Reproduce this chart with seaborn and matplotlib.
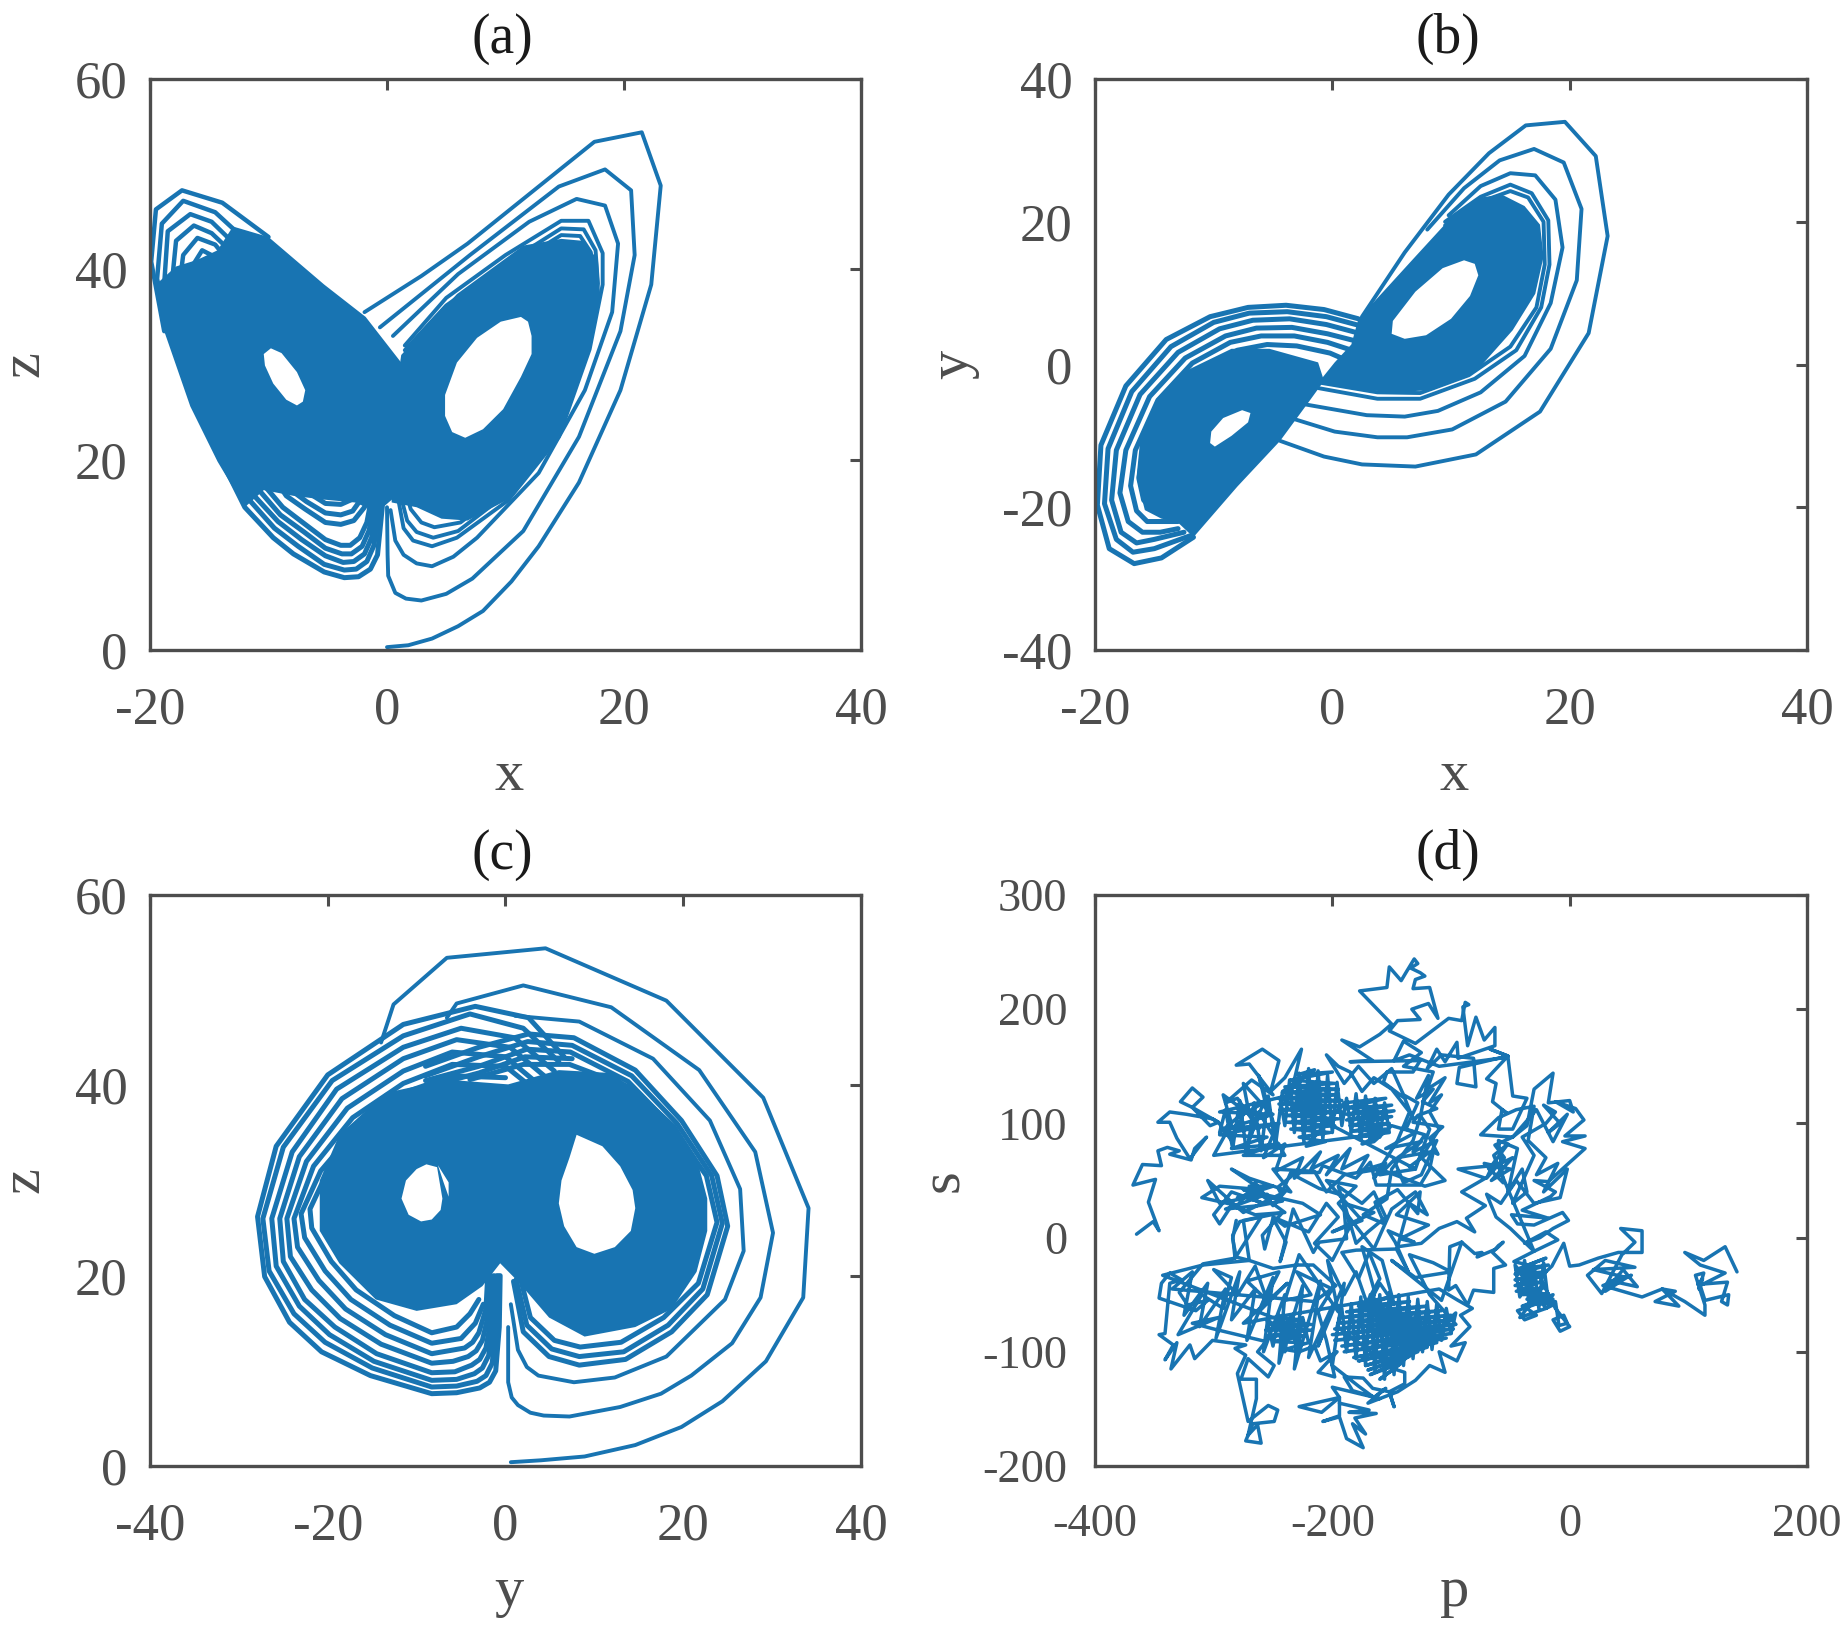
#!/usr/bin/env python3
"""Four phase portraits: x-z, x-y, y-z and p-s, values read off the picture."""

import matplotlib
matplotlib.use("Agg")
import matplotlib.pyplot as plt
import pandas as pd
import seaborn as sns

BLUE = "#1874B2"
GREY = "#4D4D4D"

# --- panel (a): x, z ---
a_outer = [
    [(0, 0.3), (1.8, 0.5), (3.8, 1.2), (6, 2.5), (8.1, 4.1), (10.5, 7.2), (12.8, 10.9), (16.2, 17.6), (19.7, 27.3), (22.3, 38.4), (23.1, 48.8),
     (21.5, 54.4), (17.5, 53.4), (12.4, 48.3), (6.8, 42.7), (2.9, 39.3), (-1.9, 35.5)],
    [(0, 15), (0.05, 10), (0.1, 7.8), (0.7, 6), (1.6, 5.4), (2.9, 5.2), (5, 5.9), (7.2, 7.5), (11.5, 12.5), (16.2, 22.4), (19.7, 33.5), (20.9, 41.5),
     (20.6, 48.3), (18.4, 50.5), (14.5, 48.7), (7, 41.5), (-0.6, 33.9)],
    [(0.3, 14.7), (0.7, 11.5), (1.4, 10), (2.5, 9.1), (3.8, 8.8), (5.6, 9.8), (7.6, 11.8), (12.8, 18.6), (16.7, 27.3), (19, 35.5), (19.5, 42.7),
     (18.4, 46.7), (16, 47.4), (12, 45), (6, 39.5), (0.5, 33)],
    [(1, 15.5), (1.4, 12.8), (2.2, 11.5), (3.8, 10.9), (5.9, 11.8), (10.2, 15.7), (14.5, 22.4), (17.1, 31.6), (18.2, 38.4),
     (18.2, 41.7), (17, 45.1), (14.7, 45.1), (10, 41.5), (5, 37), (1.5, 32)],
    [(1.2, 16), (1.7, 13.6), (2.5, 12.4), (3.9, 11.8), (6, 12.5), (10, 16.3), (14.2, 23), (16.8, 32), (17.8, 38.5),
     (17.6, 42), (16.6, 44.2), (14.7, 44.3), (10, 40.6), (5, 36.2), (1.5, 31.5)],
    [(1.5, 17), (2, 14.8), (2.9, 13.4), (4, 12.9), (6.2, 13.4), (10, 17), (13.9, 23.5), (16.5, 32.5), (17.4, 38.5),
     (17.2, 41.8), (16.3, 43.5), (14.7, 43.6), (10, 40), (5, 35.5), (1.5, 31)],
]
a_left_arcs = [
    [(-14, 20), (-12, 15), (-9.6, 11.8), (-7.9, 10.1), (-5.3, 8.2), (-3.6, 7.6), (-2.4, 7.7), (-1.4, 8.5), (-0.8, 10), (-0.4, 15), (-0.3, 20)],
    [(-13, 19), (-11.5, 15.6), (-9.5, 12.8), (-7.5, 10.9), (-5.3, 9), (-3.6, 8.4), (-2.6, 8.5), (-1.7, 9.3), (-1.1, 11), (-0.7, 15), (-0.5, 20)],
    [(-13, 20), (-11.2, 16.2), (-9.2, 13.5), (-7.2, 11.6), (-5.2, 9.9), (-3.7, 9.2), (-2.8, 9.3), (-1.9, 10.1), (-1.3, 11.8), (-0.9, 15), (-0.7, 20)],
    [(-12, 20), (-10.8, 16.8), (-9, 14.2), (-7, 12.4), (-5.2, 10.7), (-3.8, 10.1), (-3, 10.1), (-2.1, 10.9), (-1.5, 12.6), (-1.1, 15.5), (-0.9, 20)],
    [(-12, 20), (-10.5, 17.5), (-8.8, 15), (-6.9, 13.2), (-5.2, 11.6), (-3.9, 11), (-3.1, 11), (-2.3, 11.8), (-1.7, 13.4), (-1.3, 16), (-1.1, 20)],
    [(-10, 19), (-8.5, 16.2), (-6.9, 14.8), (-5.2, 13.4), (-3.9, 13.2), (-2.8, 13.6), (-1.9, 15), (-1.4, 18)],
    [(-10, 20), (-8.3, 17), (-6.8, 15.6), (-5.2, 14.4), (-3.9, 14.2), (-2.9, 14.6), (-2.1, 16), (-1.6, 19)],
    [(-10, 20), (-8.1, 17.8), (-6.6, 16.5), (-5.2, 15.4), (-3.9, 15.3), (-3, 15.8), (-2.3, 17), (-1.8, 20)],
]
a_left_top = [
    [(-10, 43.4), (-13.9, 47), (-17.3, 48.3), (-19.5, 46.3), (-19.9, 40.8), (-18.8, 33.5)],
    [(-11, 42), (-14.5, 46), (-17.2, 47.2), (-19, 44.8), (-19.4, 39), (-18.4, 33)],
    [(-11.5, 41), (-14.8, 45), (-16.6, 45.8), (-18.5, 44), (-18.8, 38.5), (-17.8, 33)],
    [(-12, 40.5), (-14.8, 43.8), (-16.3, 44.6), (-17.8, 43), (-18.2, 38), (-17.3, 33)],
    [(-12.5, 39.5), (-14.5, 42.6), (-16, 43.3), (-17.2, 41.5), (-17.6, 37.5), (-16.8, 33)],
    [(-12.5, 38.5), (-14.5, 41.3), (-15.6, 42), (-16.6, 40), (-17.1, 36.5), (-16.5, 33)],
    [(-13, 38), (-14.2, 40.3), (-15.3, 40.8), (-16.2, 38.8), (-16.7, 36), (-16.2, 33)],
]
a_solid_left = [(-16, 41), (-14.3, 42), (-13, 44.5), (-10, 43.4), (-5.3, 38.4), (-1.8, 35), (1.2, 30.2), (1.5, 25),
                (1.5, 20), (0.6, 16), (-0.8, 14.5), (-2.7, 15.5), (-5.3, 15.8), (-7.9, 16.2), (-10.4, 16.8), (-12, 15), (-14.3, 19.8),
                (-16.6, 25.6), (-18.8, 33.5), (-19.5, 38.4), (-17.8, 40.3)]
a_solid_right = [(1.2, 31), (5.9, 37.4), (11.5, 42.5), (14.7, 43.2), (16.5, 43), (17.8, 41), (18, 37), (17, 31),
                 (14.5, 22.5), (10.5, 16), (6.8, 13.6), (4.6, 13.8), (2.5, 15), (0.4, 15.5), (0.2, 20), (0.5, 24.9)]
a_holes = [
    [(11.3, 35), (11.9, 34.5), (12.2, 33), (12.2, 31.1), (11.3, 28.7), (9.8, 25.3), (8.1, 23.2), (6.6, 22.3), (5.5, 22.9),
     (4.9, 24.6), (4.9, 26.8), (5.9, 30.2), (7.6, 32.8), (9.6, 34.5)],
    [(-9.8, 31.7), (-8.9, 31.2), (-7.6, 29.2), (-6.9, 27.3), (-7.1, 26.1), (-7.6, 25.7), (-8.5, 26.3), (-9.6, 28), (-10.3, 29.9), (-10.4, 31.1)],
]

# --- panel (b): x, y ---
b_outer = [
    [(-4.4, -10.7), (-0.7, -12.9), (2.5, -14), (7, -14.3), (12.1, -12.6), (17.5, -6.6), (21.6, 4.4), (23.2, 18),
     (22.2, 29.2), (19.6, 34), (16.3, 33.5), (13.2, 29.6), (9.8, 23.8), (6.1, 15.7), (2.5, 6.7)],
    [(-3.5, -7.5), (0.2, -9.4), (3.8, -10.2), (6.3, -10.2), (10.1, -9.1), (14.6, -5.2), (18.4, 2.2), (20.6, 11.8),
     (21, 21.8), (19.5, 28.3), (17, 30.2), (14.1, 28.6), (11.1, 24.7), (8, 18.9)],
    [(-2.6, -5.5), (2.9, -7.1), (6.1, -7.3), (8.9, -6.5), (12.5, -3.9), (16.2, 1.2), (18.4, 8.6), (19.4, 16.4),
     (18.8, 23.1), (17.1, 26.5), (15, 26.8), (12.5, 25), (9.8, 20.9)],
    [(-1.2, -3.3), (3.8, -4.8), (7.4, -4.8), (12, -2), (15.5, 2), (17.6, 8), (18.3, 14), (18.2, 20.2), (16.8, 24),
     (15, 25.2), (12.5, 23.5), (9.5, 20)],
    [(-1.2, -2.5), (3.8, -3.9), (7.4, -4), (11.5, -1.5), (15, 2.5), (17.2, 8), (17.9, 14), (17.8, 20), (16.5, 23.4),
     (15, 24.3), (12.5, 22.8), (9.5, 19.5)],
]
b_band = [
    [(-11.7, -24.2), (-14.4, -27.1), (-16.7, -27.9), (-18.8, -25.8), (-19.8, -19.7), (-19.5, -11.3), (-17.4, -3), (-14, 3.5),
     (-10.3, 6.7), (-7.1, 8), (-3.9, 8.3), (-0.7, 7.7), (2.2, 6.4)],
    [(-12, -24), (-15, -25.8), (-16.8, -26.3), (-18.2, -24.5), (-19.2, -19.5), (-18.9, -11.8), (-16.9, -3.8), (-13.6, 2.5),
     (-10, 5.9), (-7, 7.2), (-3.8, 7.4), (-0.5, 6.7), (2.2, 5.5)],
    [(-12.5, -23.5), (-15, -24.5), (-16.5, -25), (-17.8, -23.5), (-18.6, -19), (-18.2, -12), (-16.2, -4.2), (-13, 1.7),
     (-9.5, 5), (-6.7, 6.2), (-3.6, 6.4), (-0.5, 5.6), (2.2, 4.4)],
    [(-13, -23), (-14.5, -23.5), (-16, -23.5), (-17.2, -22), (-17.9, -18), (-17.4, -12), (-15.4, -4.5), (-12.4, 0.9),
     (-9, 4), (-6.4, 5.1), (-3.4, 5.2), (-0.4, 4.3), (2.2, 3.2)],
    [(-13, -22), (-14.5, -22), (-15.6, -22), (-16.5, -20.5), (-17, -17), (-16.6, -12), (-14.7, -5), (-11.8, 0.2),
     (-8.6, 3.1), (-6, 4), (-3.2, 4), (-0.4, 3.1), (2, 1.8)],
    [(-13, -21.5), (-15, -20.5), (-15.9, -19), (-16.3, -16), (-15.9, -11.5), (-14.2, -6), (-11.2, -0.6),
     (-8, 2), (-5.5, 2.8), (-3, 2.6), (-0.2, 1.6), (1.6, 0.3)],
]
b_solid_left = [(-1.2, 0.3), (-5.3, 2.2), (-8.5, 2.2), (-12.1, -0.7), (-14.9, -5.5), (-16.2, -10.7), (-16.5, -15.8),
                (-15.8, -20.4), (-14.4, -21.6), (-13.1, -22), (-11.7, -24.2), (-8, -17.1), (-4.4, -10.7), (-2.1, -5.5), (-0.7, -2.3)]
b_solid_right = [(-1.2, -2.6), (4.7, -3.9), (8.4, -3.6), (12.1, -1), (15.2, 4.8), (17.1, 9.9), (17.8, 15.1), (17.5, 19.6),
                 (16.2, 22.2), (14.3, 23.8), (12.5, 23.4), (9.8, 20.2), (6.6, 14.4), (3.8, 9.3), (2.2, 6.4), (1.6, 2.8), (0.2, 0.3)]
b_holes = [
    [(11.1, 14.6), (12, 14.1), (12.3, 12.5), (11.6, 9.6), (10, 6.4), (7.9, 4.1), (6.1, 3.6), (5, 4.3), (5.1, 6.1), (7, 10.2), (9.3, 13.5)],
    [(-7.6, -6.4), (-6.9, -6.8), (-7.1, -8.1), (-8.5, -10), (-9.9, -11.5), (-10.3, -11), (-10.2, -9.4), (-9.2, -7.5)],
]

# --- panel (c): y, z ---
c_outer = [
    [(0.6, 0.4), (4, 0.6), (8.9, 1), (14.6, 2.2), (19.8, 4.1), (24.4, 6.8), (29.3, 11), (33.5, 17.7), (34.1, 27.1), (29, 38.7),
     (18.1, 48.9), (4.5, 54.4), (-6.6, 53.4), (-12.6, 48.5), (-14, 44.5)],
    [(0.3, 14.6), (0.3, 8.8), (0.7, 7.2), (1.4, 6.4), (2.8, 5.6), (4.3, 5.3), (7.2, 5.2), (12.9, 6.2), (17.5, 7.6), (20.9, 9.5), (25.5, 12.9),
     (28.7, 17.7), (30.1, 24.5), (28.1, 33), (21.8, 41.6), (11.9, 48.2), (2, 50.5), (-5.5, 48.6), (-6.6, 47.1)],
    [(0.6, 17), (1.4, 12.2), (2.4, 10.4), (3.7, 9.5), (7.7, 8.8), (12.3, 9.3), (18.1, 11.5), (24.7, 17.5), (26.8, 22.6), (26.4, 29.1),
     (23, 36.3), (16.6, 42.8), (8.3, 46.7), (1.1, 47.3)],
]
c_left_rings = [
    [(-0.6, 20), (-0.7, 14.6), (-1.1, 10), (-1.8, 8.8), (-2.9, 8.2), (-5.5, 7.7), (-8.3, 7.6), (-15.2, 9.5), (-20.7, 12), (-24.3, 15.1), (-27.1, 19.9),
     (-27.9, 26.2), (-25.8, 33.6), (-20, 41.1), (-11.5, 46.4), (-3.4, 48.3), (2.6, 47.1), (6.6, 43)],
    [(-0.8, 20), (-1, 15), (-1.5, 10.8), (-2.2, 9.5), (-3.2, 8.9), (-5.5, 8.4), (-8.3, 8.3), (-15, 10.3), (-20.3, 13), (-23.8, 16), (-26.6, 20.5), (-27.3, 26),
     (-25, 33.5), (-19.5, 40.5), (-11.5, 45.2), (-4, 47.5), (2, 46), (6, 42.5)],
    [(-1, 20), (-1.3, 15.3), (-1.9, 11.6), (-2.6, 10.3), (-3.5, 9.7), (-5.5, 9.1), (-8.3, 9), (-14.8, 11), (-19.8, 13.8), (-23.2, 16.8), (-25.8, 21), (-26.3, 26),
     (-24, 33), (-19, 39.6), (-11.5, 44), (-5, 46), (1, 45), (5.5, 41.5)],
    [(-1.3, 20), (-1.6, 15.6), (-2.2, 12.4), (-2.9, 11.2), (-3.8, 10.6), (-5.7, 9.9), (-8.3, 9.8), (-14.5, 11.8), (-19.2, 14.6), (-22.6, 17.5), (-25, 21.5), (-25.4, 26),
     (-23.2, 32.5), (-18.4, 38.6), (-11.5, 42.8), (-5.5, 44.8), (0.5, 44), (5, 40.5)],
    [(-1.6, 20), (-1.9, 16), (-2.6, 13.2), (-3.3, 12.1), (-4.2, 11.5), (-5.9, 11), (-8.3, 10.8), (-14, 12.8), (-18.6, 15.5), (-21.8, 18.5), (-24.2, 22), (-24.6, 26),
     (-22.4, 32), (-17.8, 37.6), (-11.5, 41.5), (-6, 43.5), (0, 43), (4.5, 39.5)],
    [(-2, 20), (-2.2, 16.5), (-3, 14), (-3.7, 13), (-4.6, 12.4), (-8.3, 11.8), (-13.5, 13.8), (-18, 16.5), (-21, 19.5), (-23.4, 23), (-23.8, 26),
     (-21.6, 31.5), (-17.2, 36.6), (-11.5, 40.2), (-6, 42.2), (0, 42), (4, 39)],
    [(-2.5, 17), (-3.4, 15), (-5, 13.4), (-8.3, 12.9), (-13, 14.8), (-17.4, 17.5), (-20.3, 20.5), (-22.6, 24), (-23, 26.5),
     (-20.8, 31), (-16.6, 35.6), (-11.5, 39.2), (-6, 41), (0, 40.8)],
    [(-3, 17.5), (-4, 16), (-5.5, 14.6), (-8.3, 14), (-12.5, 15.8), (-16.8, 18.5), (-19.6, 21.5), (-21.8, 25), (-22, 27),
     (-20, 31), (-16, 35), (-11.5, 38.2), (-6, 40)],
]
c_right_rings = [
    [(0.9, 19.4), (2, 14.1), (4.9, 11.5), (8.3, 10.6), (13.5, 11.2), (18.7, 14.1), (22.7, 18), (25, 25.2), (23.8, 30.5),
     (19.8, 36.3), (14.6, 41.6), (7.7, 45), (2.6, 45.4), (-3, 44), (-9, 42)],
    [(1.2, 19.6), (2.4, 14.8), (5.2, 12.3), (8.3, 11.5), (13.3, 12), (18.3, 14.8), (22.2, 18.6), (24.4, 25.5), (23.2, 30.5),
     (19.3, 36), (14.2, 41), (7.5, 44.2), (2.5, 44.6), (-3, 43), (-9, 41)],
    [(1.6, 20), (2.8, 15.6), (5.5, 13.2), (8.4, 12.5), (13, 13), (17.8, 15.6), (21.7, 19.2), (23.8, 25.6), (22.6, 30.5),
     (18.8, 35.6), (13.8, 40.4), (7.3, 43.5), (2.4, 43.8), (-3, 42), (-9, 40.5)],
    [(7.5, 42.8), (2.2, 43), (-3, 41.3), (-9, 39.8)],
    [(14, 39.8), (7.2, 42.2), (2, 42.2), (-4, 40.6)],
]
c_solid = [(-18.7, 34.8), (-13.5, 39.2), (-6.6, 40.6), (0.3, 40.1), (6, 41.6), (11.8, 41.3), (15.2, 39.2), (19.2, 35.8),
           (21.5, 32.4), (22.7, 28.1), (22.7, 24.7), (21.5, 20.4), (18.7, 16.5), (14.6, 14.6), (8.9, 13.6), (4.9, 15.6),
           (1.4, 19.4), (-0.6, 21.3), (-2.6, 18.9), (-5.5, 17), (-10, 16.3), (-14.6, 17.5), (-18.7, 21.3), (-20.9, 24.7),
           (-20.9, 30)]
c_holes = [
    [(8, 34.8), (10.9, 33.6), (12.9, 31.5), (14.3, 29), (14.6, 27.1), (14.1, 24.7), (12.3, 23), (10, 22.3), (8, 23), (6.6, 25.2),
     (6, 27.6), (6.3, 30), (7.2, 32.4)],
    [(-8.9, 31.7), (-7.7, 31.4), (-7.1, 28.1), (-7.3, 26.9), (-8.3, 25.9), (-9.5, 25.7), (-10.9, 26.4), (-11.7, 28.1), (-11.2, 30), (-10, 31.2)],
    [(-7.6, 31.6), (-6.4, 29.8), (-6.4, 28.3), (-7, 29.9)],
]

# --- panel (d): p, s ---
d_left_arm = [(-365, 3), (-351, 14), (-346, 6), (-355, 31), (-349, 51), (-368, 46), (-360, 64), (-344, 63), (-347, 76), (-339, 79),
              (-329, 76), (-337, 73), (-319, 68), (-316, 78), (-306, 88), (-320, 69), (-331, 87), (-337, 101), (-347, 101),
              (-337, 110), (-323, 108), (-301, 104), (-296, 101), (-303, 98), (-318, 114), (-328, 119), (-318, 131), (-309, 123), (-318, 114)]
d_core_left = [(-296, 101), (-285, 85), (-272, 115), (-262, 95), (-280, 122), (-290, 118), (-268, 138), (-250, 125), (-270, 152), (-281, 151),
               (-259, 165), (-245, 155), (-252, 128), (-240, 140), (-226, 165), (-235, 125), (-295, 110), (-250, 108), (-290, 95),
               (-245, 100), (-295, 90), (-255, 88), (-285, 78), (-245, 82), (-275, 72), (-240, 72), (-262, 110), (-272, 80), (-258, 118), (-280, 105),
               (-295, 92), (-290, 112), (-284, 78), (-278, 120), (-272, 72), (-266, 118), (-260, 76), (-254, 124), (-248, 80), (-242, 128)]
d_core_b = [(-215, 147), (-228, 143), (-200, 145), (-235, 138), (-198, 135), (-240, 132), (-195, 130), (-242, 127), (-195, 125),
            (-245, 122), (-192, 120), (-245, 117), (-190, 115), (-244, 112), (-192, 110), (-240, 107), (-195, 104), (-238, 101),
            (-198, 98), (-235, 95), (-202, 92), (-228, 88), (-206, 84), (-222, 80), (-190, 118), (-155, 122), (-190, 113), (-150, 116),
            (-188, 108), (-148, 111), (-188, 103), (-150, 106), (-185, 98), (-152, 100), (-184, 93), (-155, 95), (-180, 88), (-160, 90),
            (-175, 82), (-165, 84), (-150, 98), (-130, 92), (-155, 78), (-125, 84), (-145, 70), (-118, 75), (-135, 62), (-130, 60)]
d_core_b_cross = [(-244, 122), (-240, 98), (-236, 138), (-232, 92), (-228, 144), (-224, 84), (-220, 148), (-216, 82), (-212, 146), (-208, 86),
                  (-204, 142), (-200, 92), (-196, 136), (-192, 98), (-188, 122), (-184, 92), (-180, 126), (-176, 86), (-172, 124), (-168, 84),
                  (-164, 122), (-160, 88), (-156, 118), (-152, 92)]
d_clutter_upper = [(-300, 72), (-285, 100), (-292, 125), (-270, 108), (-275, 135), (-255, 112), (-262, 142), (-248, 95), (-258, 70), (-240, 82), (-248, 58),
                   (-225, 70), (-232, 52), (-210, 75), (-218, 60), (-195, 72), (-205, 55), (-185, 78), (-192, 60), (-170, 72), (-178, 58), (-155, 65), (-165, 52),
                   (-145, 85), (-135, 110), (-150, 130), (-165, 140), (-175, 128), (-185, 145), (-195, 150), (-205, 160), (-190, 135), (-178, 150), (-165, 135),
                   (-150, 148), (-140, 125), (-128, 118), (-138, 95), (-122, 90), (-132, 75), (-112, 85), (-125, 55), (-140, 48), (-148, 68), (-160, 55)]
d_top_peak = [(-130, 60), (-118, 95), (-126, 107), (-132, 104), (-139, 122), (-157, 136), (-154, 145), (-132, 145), (-126, 155),
              (-185, 154), (-166, 155), (-192, 173), (-177, 167), (-160, 178), (-150, 187), (-177, 216), (-154, 219), (-152, 237),
              (-142, 225), (-138, 232), (-131, 244), (-128, 240), (-134, 236), (-126, 232), (-122, 229), (-130, 226), (-132, 218), (-118, 219),
              (-111, 192), (-119, 205), (-133, 200), (-126, 191),
              (-145, 190), (-152, 181), (-130, 170), (-102, 192), (-91, 190), (-88, 206), (-85, 204), (-90, 202), (-86, 168), (-79, 193), (-72, 173),
              (-63, 184), (-63, 168), (-94, 157), (-95, 171), (-105, 154), (-112, 165), (-120, 148), (-108, 160), (-81, 157), (-79, 132), (-95, 135), (-93, 149),
              (-52, 159), (-67, 165), (-52, 159), (-70, 139), (-62, 135), (-65, 119), (-53, 109), (-57, 112), (-60, 95), (-48, 95), (-36, 122),
              (-48, 124), (-52, 158), (-110, 150), (-135, 160), (-148, 155), (-140, 172), (-125, 162), (-140, 150), (-115, 145), (-120, 130), (-105, 140), (-118, 118), (-108, 125), (-118, 110)]
d_mid = [(-118, 110), (-110, 95), (-125, 70), (-105, 50), (-122, 45), (-160, 60), (-190, 55), (-205, 40), (-215, 58), (-250, 60), (-235, 40),
         (-270, 52), (-285, 60), (-260, 42), (-295, 45), (-310, 35), (-280, 28), (-265, 48), (-250, 28), (-240, 40), (-275, 22),
         (-305, 50), (-295, 30), (-272, 35), (-258, 30), (-285, 40), (-300, 20), (-295, 12), (-285, 28), (-265, 20), (-240, 22),
         (-270, 45), (-250, 45), (-280, 35), (-255, 38), (-290, 25), (-262, 28), (-242, 32), (-275, 42), (-225, 30), (-210, 20), (-240, 10), (-250, 18), (-220, 5), (-205, 30),
         (-195, 18), (-215, -5), (-200, -20), (-185, 10), (-195, 45), (-175, 30), (-165, 40), (-155, 18), (-170, 5), (-180, -5),
         (-190, 30), (-165, 22), (-200, 5), (-175, 15), (-205, 50), (-180, 45), (-195, 30), (-165, -10),
         (-150, 25), (-130, 40), (-120, 20), (-135, 30), (-145, -8), (-125, -5), (-110, 8), (-95, 14), (-80, 5), (-87, 17), (-71, 28), (-91, 40), (-71, 52), (-94, 60),
         (-65, 63), (-70, 52), (-55, 70), (-63, 81), (-48, 88)]
d_mid_extra = [(-281, 15), (-284, -1), (-281, -17), (-270, -20), (-275, 15), (-242, 22), (-259, 2), (-257, -10), (-250, 17), (-239, -4), (-244, -21), (-233, 25),
               (-216, -13), (-211, -4), (-188, -1), (-191, 37), (-211, 43), (-222, 49), (-233, 55), (-246, 44), (-243, 38), (-235, 57), (-211, 57), (-208, 63),
               (-180, 52), (-168, 66), (-163, 46), (-126, 46), (-118, 60), (-115, 75), (-111, 73), (-118, 87), (-107, 97), (-132, 101), (-128, 107), (-112, 113),
               (-124, 119), (-115, 130), (-129, 122), (-119, 142), (-126, 105), (-132, 85), (-150, 60), (-154, 34), (-174, 20), (-156, 12), (-164, 31), (-145, 42),
               (-128, 21), (-126, 40), (-146, 20), (-119, 11), (-143, -1), (-131, -4), (-153, 6), (-147, -4), (-136, -30), (-146, -10), (-180, -11), (-192, -13),
               (-178, -36), (-169, -13), (-160, -36), (-170, -55)]
d_right_upper = [(-48, 88), (-36, 98), (-30, 130), (-14, 144), (-18, 118), (0, 120), (3, 110), (-12, 119), (5, 113), (12, 103), (-4, 89),
                 (13, 89), (-6, 84), (13, 78), (-18, 49), (-30, 50), (-12, 40), (-16, 36), (-40, 24), (-18, 17), (-49, 20),
                 (-44, 12), (-30, 11), (-6, 22), (-1, 15), (-14, 8), (-25, 0), (-38, -5), (-20, 5), (-10, -2), (-30, -12)]
d_blob_e = [(-64, 72), (-52, 82), (-68, 60), (-48, 70), (-66, 50), (-50, 60), (-72, 65), (-56, 48), (-60, 85), (-44, 78), (-52, 40), (-40, 60), (-36, 40),
            (-48, 30), (-30, 72), (-40, 88), (-20, 100), (-12, 110), (-22, 116), (-8, 100), (-18, 92), (-2, 108), (-14, 84), (-28, 112), (-38, 100), (-48, 88),
            (-75, 90), (-60, 105), (-45, 112), (-30, 115), (-35, 85), (-20, 70), (-28, 55), (-10, 65), (-22, 40), (-2, 60), (-8, 35), (-30, 30), (-45, 50),
            (-58, 30), (-70, 38), (-62, 18), (-50, 8)]
d_right_core = [(-30, -12), (-47, -21), (-35, -24), (-20, -18), (-45, -28), (-18, -24), (-46, -32), (-20, -30), (-46, -37), (-25, -34), (-46, -42),
                (-25, -39), (-45, -47), (-22, -44), (-42, -50), (-18, -49), (-36, -54), (-14, -54), (-30, -58), (-12, -58), (-20, -62),
                (-46, -24), (-42, -52), (-38, -20), (-34, -60), (-30, -24), (-26, -62), (-22, -22), (-18, -56), (-14, -50),
                (-40, -60), (-28, -58), (-44, -64), (-38, -72), (-28, -68), (-36, -62), (-42, -70), (-20, -62), (-12, -56), (-9, -77), (-2, -75), (-5, -68),
                (-14, -72), (-8, -82), (0, -78), (-12, -62), (-25, -35), (-15, -25), (-5, -5), (0, -25), (8, -24), (24, -18), (41, -13),
                (61, -13), (61, 6), (43, 8), (55, -4), (44, -15), (27, -49), (15, -33), (30, -20), (55, -26), (20, -28), (48, -35), (30, -47),
                (45, -28), (57, -43), (35, -38), (52, -33), (28, -42), (61, -52), (78, -45), (89, -47), (72, -56), (92, -60), (78, -45), (97, -56), (114, -68),
                (114, -59), (106, -33), (113, -31), (109, -45), (112, -36), (108, -41), (133, -39), (128, -56), (133, -59), (134, -50), (114, -55), (110, -42),
                (131, -31), (110, -24), (97, -13), (113, -20), (131, -8), (141, -30)]
d_lower_left = [(-282, -18), (-284, 2), (-278, 14), (-260, 18), (-282, -18), (-309, -23), (-329, -48), (-322, -59), (-305, -55), (-315, -64), (-346, -53), (-344, -40),
                (-337, -31), (-327, -37), (-337, -40), (-341, -84), (-346, -85), (-334, -94), (-341, -107), (-331, -92), (-336, -115), (-320, -94),
                (-316, -106), (-301, -90), (-273, -94), (-282, -97), (-273, -103), (-280, -119), (-271, -161), (-254, -147), (-246, -151),
                (-249, -161), (-267, -163), (-273, -178), (-260, -180), (-263, -164), (-271, -173), (-264, -141), (-264, -124), (-277, -124),
                (-271, -106), (-254, -122), (-249, -112), (-263, -100), (-256, -91), (-300, -80), (-318, -75), (-296, -70), (-330, -85), (-310, -50),
                (-292, -62), (-285, -35), (-300, -28), (-280, -50), (-265, -25), (-255, -55), (-272, -38), (-245, -30), (-262, -65), (-238, -40), (-275, -75), (-250, -70),
                (-343, -33), (-309, -24), (-270, -20), (-250, -27), (-230, -24), (-216, -24), (-197, -42), (-215, -56)]
d_clutter_lower = [(-335, -45), (-318, -30), (-325, -68), (-305, -40), (-312, -78), (-290, -45), (-298, -88), (-278, -30), (-285, -72), (-265, -45), (-272, -90),
                   (-250, -35), (-258, -100), (-240, -50), (-245, -110), (-225, -42), (-232, -115), (-210, -38), (-220, -105), (-200, -60), (-212, -95), (-190, -40),
                   (-200, -112), (-178, -130), (-165, -140), (-155, -132), (-170, -145), (-145, -135), (-130, -125), (-118, -112), (-105, -118), (-110, -100),
                   (-95, -108), (-88, -92), (-100, -95), (-84, -78), (-92, -68), (-82, -62), (-94, -55), (-110, -45)]
d_core_f = [(-250, -70), (-225, -72), (-254, -76), (-218, -76), (-256, -81), (-218, -81), (-255, -86), (-222, -86), (-250, -91), (-225, -92),
            (-255, -72), (-250, -95), (-245, -68), (-240, -100), (-235, -68), (-230, -100), (-225, -70), (-220, -92),
            (-240, -98), (-228, -100), (-215, -95), (-210, -108), (-196, -100), (-212, -118), (-198, -122), (-205, -90), (-212, -65), (-200, -45),
            (-230, -30), (-218, -50), (-240, -55), (-228, -15), (-195, -65), (-204, -20), (-190, -50), (-180, -30), (-170, -60), (-160, -40), (-148, -58), (-158, -20), (-175, -8), (-165, -45)]
d_core_g = [(-165, -55), (-150, -52), (-178, -60), (-135, -56), (-188, -65), (-120, -60), (-192, -70), (-108, -64), (-195, -75), (-100, -68), (-198, -80),
            (-98, -72), (-200, -85), (-96, -76), (-198, -90), (-98, -80), (-192, -95), (-100, -84), (-190, -100), (-104, -88), (-182, -105), (-112, -92),
            (-178, -108), (-120, -96), (-172, -112), (-128, -100), (-170, -116), (-135, -104), (-168, -120), (-142, -110), (-160, -124), (-148, -115)]
d_core_g_cross = [(-196, -78), (-192, -62), (-188, -100), (-184, -58), (-180, -106), (-176, -52), (-172, -112), (-168, -50), (-164, -118), (-160, -50),
                  (-156, -124), (-152, -48), (-148, -120), (-144, -50), (-140, -112), (-136, -52), (-132, -106), (-128, -54), (-124, -100), (-120, -56),
                  (-116, -98), (-112, -58), (-108, -90), (-104, -62), (-100, -84), (-96, -66)]
d_lower = [(-148, -115), (-139, -118), (-139, -128), (-152, -135), (-148, -148), (-152, -135), (-166, -132), (-174, -123), (-190, -122), (-183, -134), (-160, -141),
           (-200, -131), (-194, -140), (-228, -148), (-209, -153), (-194, -140), (-194, -156), (-208, -161), (-194, -157), (-188, -176), (-174, -184),
           (-183, -163), (-172, -172), (-181, -158), (-163, -154), (-186, -153), (-169, -151), (-194, -145)]
d_lower_right = [(-96, -76), (-118, -50), (-135, -15), (-115, -22), (-100, -30), (-130, -35), (-150, -20), (-120, -45), (-108, -55), (-91, -4), (-101, -8),
                 (-102, -46), (-96, -42), (-86, -59), (-81, -46), (-64, -48), (-64, -27), (-54, -24), (-65, -13), (-60, -7), (-56, -4), (-62, -10), (-78, -17), (-74, -13), (-80, -14), (-91, -4)]

# --- tick labels ---
a_xticks = [-20, 0, 20, 40]
a_zticks = [0, 20, 40, 60]
b_yticks = [-40, -20, 0, 20, 40]
c_yticks = [-40, -20, 0, 20, 40]
d_pticks = [-400, -200, 0, 200]
d_sticks = [-200, -100, 0, 100, 200, 300]


def draw_trace(ax, pts, lw=2.8):
    df = pd.DataFrame(pts, columns=["h", "v"])
    sns.lineplot(data=df, x="h", y="v", sort=False, estimator=None, errorbar=None, color=BLUE, linewidth=lw, ax=ax)


def draw_area(ax, pts, color=BLUE):
    df = pd.DataFrame(pts, columns=["h", "v"])
    ax.fill(df["h"], df["v"], color=color, linewidth=0, zorder=3)


def dress(ax, title, xlabel, ylabel, xticks, yticks, tick_size, label_x, xpad, ypad):
    ax.set_xlim(xticks[0], xticks[-1])
    ax.set_ylim(yticks[0], yticks[-1])
    ax.set_xticks(xticks)
    ax.set_yticks(yticks)
    ax.set_title(title, fontsize=40, color="#1a1a1a", pad=19, x=0.495)
    ax.set_xlabel(xlabel, fontsize=42, color=GREY)
    ax.set_ylabel(ylabel, fontsize=42, color=GREY)
    ax.xaxis.set_label_coords(0.505, -0.175)
    ax.yaxis.set_label_coords(label_x, 0.5)
    ax.tick_params(direction="in", top=True, right=True, length=8, width=2.2, color=GREY,
                   labelcolor=GREY, labelsize=tick_size)
    ax.tick_params(axis="x", pad=xpad)
    ax.tick_params(axis="y", pad=ypad)
    for sp in ax.spines.values():
        sp.set_color(GREY)
        sp.set_linewidth(2.4)
        sp.set_zorder(5)


sns.set_style("white")
plt.rcParams["font.family"] = ["Liberation Serif", "DejaVu Serif"]
plt.rcParams["axes.unicode_minus"] = False

W, H = 1849.0, 1634.0
fig = plt.figure(figsize=(W / 100, H / 100), dpi=100)
ax_a = fig.add_axes([150 / W, 1 - 650 / H, 711 / W, 571 / H])
ax_b = fig.add_axes([1095 / W, 1 - 650 / H, 712 / W, 571 / H])
ax_c = fig.add_axes([150 / W, 1 - 1466 / H, 711 / W, 571 / H])
ax_d = fig.add_axes([1095 / W, 1 - 1466 / H, 712 / W, 571 / H])

for pts in [a_solid_left, a_solid_right]:
    draw_area(ax_a, pts)
for pts in a_outer:
    draw_trace(ax_a, pts)
for pts in a_left_arcs:
    draw_trace(ax_a, pts, lw=3.6)
for pts in a_left_top:
    draw_trace(ax_a, pts, lw=3.2)
for pts in a_holes:
    draw_area(ax_a, pts, "white")

for pts in [b_solid_left, b_solid_right]:
    draw_area(ax_b, pts)
for pts in b_outer:
    draw_trace(ax_b, pts)
for pts in b_band:
    draw_trace(ax_b, pts, lw=3.6)
for pts in b_holes:
    draw_area(ax_b, pts, "white")

draw_area(ax_c, c_solid)
for pts in c_outer:
    draw_trace(ax_c, pts)
for pts in c_left_rings + c_right_rings:
    draw_trace(ax_c, pts, lw=3.6)
for pts in c_holes:
    draw_area(ax_c, pts, "white")

d_upper_path = (d_left_arm + d_core_left + d_core_b + d_core_b_cross + d_clutter_upper + d_top_peak + d_mid
                + d_right_upper + d_blob_e + d_right_core)
d_lower_path = d_lower_left + d_clutter_lower + d_core_f + d_core_g + d_core_g_cross + d_lower
for pts in [d_upper_path, d_lower_path, d_lower_right, d_mid_extra]:
    draw_trace(ax_d, pts, lw=2.5)

dress(ax_a, "(a)", "x", "z", a_xticks, a_zticks, 38, -0.14, 26, 16)
dress(ax_b, "(b)", "x", "y", a_xticks, b_yticks, 38, -0.163, 26, 16)
dress(ax_c, "(c)", "y", "z", c_yticks, a_zticks, 38, -0.14, 26, 16)
dress(ax_d, "(d)", "p", "s", d_pticks, d_sticks, 33.5, -0.175, 27, 20)

fig.savefig("out.png", dpi=100)
